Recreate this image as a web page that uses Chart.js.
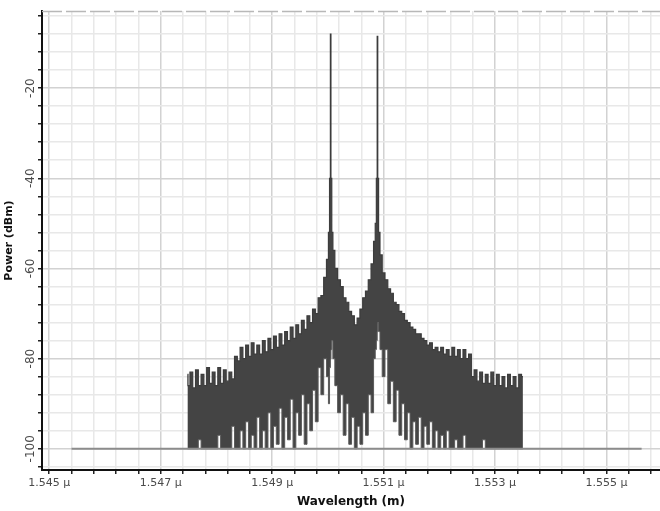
<!DOCTYPE html>
<html>
<head>
<meta charset="utf-8">
<script src="https://cdn.jsdelivr.net/npm/chart.js@4.4.1/dist/chart.umd.min.js"></script>
<style>
html,body{margin:0;padding:0;background:#fff;}
#wrap{width:660px;height:511px;}
</style>
</head>
<body>
<div id="wrap"><canvas id="c" width="660" height="511"></canvas></div>
<script>
// ---- data (wavelength in nm, power in dBm) ----
const wavelengthNm = [
1547.48,1547.50,1547.55,1547.60,1547.65,1547.70,1547.75,1547.80,1547.85,1547.90,1547.95,
1548.00,1548.05,1548.10,1548.15,1548.20,1548.25,1548.30,1548.35,1548.40,1548.45,
1548.50,1548.55,1548.60,1548.65,1548.70,1548.75,1548.80,1548.85,1548.90,1548.95,
1549.00,1549.05,1549.10,1549.15,1549.20,1549.25,1549.30,1549.35,1549.40,1549.45,
1549.50,1549.55,1549.60,1549.65,1549.70,1549.75,1549.80,1549.85,1549.90,1549.95,
1550.00,1550.02,1550.04,1550.05,1550.06,1550.08,1550.10,1550.15,1550.20,1550.25,
1550.30,1550.35,1550.40,1550.45,1550.50,1550.55,1550.60,1550.65,1550.70,1550.75,
1550.80,1550.84,1550.86,1550.88,1550.89,1550.90,1550.92,1550.95,
1551.00,1551.05,1551.10,1551.15,1551.20,1551.25,1551.30,1551.35,1551.40,1551.45,
1551.50,1551.55,1551.60,1551.65,1551.70,1551.75,1551.80,1551.85,1551.90,1551.95,
1552.00,1552.05,1552.10,1552.15,1552.20,1552.25,1552.30,1552.35,1552.40,1552.45,
1552.50,1552.55,1552.60,1552.65,1552.70,1552.75,1552.80,1552.85,1552.90,1552.95,
1553.00,1553.05,1553.10,1553.15,1553.20,1553.25,1553.30,1553.35,1553.40,1553.45,1553.50
];
const upperDbm = [
-83.5,-86,-83,-86.5,-82.5,-86,-83.5,-86,-82,-85.5,-83,
-86,-82,-85.5,-82.5,-85,-83,-84.5,-79.5,-80.5,-77.5,
-80,-77,-79.5,-76.5,-79,-77,-79,-76,-78.5,-75.5,
-78,-75,-77.5,-74.5,-77,-74,-76,-73,-75.5,-72.5,
-74.5,-71.5,-73.5,-70.5,-72,-69,-70,-66.5,-66,-62,
-58,-52,-40,-8,-40,-52,-56,-60,-62.5,-64,
-66.5,-67.5,-69.5,-70.5,-72.5,-71,-69,-66.5,-65,-62.5,
-59,-54,-50,-40,-8.5,-40,-52,-57,
-61,-62.5,-64.5,-65.5,-67.5,-68,-69.5,-70,-71.5,-72,
-73,-73.5,-74.5,-74.5,-75.5,-76,-77,-76.5,-78,-77.5,
-78.5,-77.5,-79,-78,-79.5,-77.5,-79.5,-78,-80,-78,
-80,-79,-84,-82.5,-85,-83,-85.5,-83.5,-85.5,-83,
-86,-83.5,-86,-84,-86.5,-83.5,-86,-84,-86.5,-83.5,-84
];
const lowerDbm = [
-100,-100,-100,-100,-100,-98,-100,-100,-100,-100,-100,
-100,-97,-100,-100,-100,-100,-95,-100,-100,-96,
-100,-94,-100,-97,-100,-93,-100,-96,-100,-92,
-100,-95,-99,-91,-100,-93,-98,-89,-100,-92,
-97,-88,-99,-90,-96,-87,-94,-82,-88,-80,
-84,-90,-82,-80,-78,-76,-80,-86,-92,-88,
-97,-90,-99,-93,-100,-95,-99,-92,-97,-88,
-92,-80,-78,-76,-74,-72,-74,-78,
-84,-78,-90,-85,-94,-87,-97,-90,-98,-92,
-100,-94,-99,-93,-100,-95,-99,-94,-100,-96,
-100,-97,-100,-96,-100,-100,-98,-100,-100,-97,
-100,-100,-100,-100,-100,-100,-98,-100,-100,-100,
-100,-100,-100,-100,-100,-100,-100,-100,-100,-100,-100
];
const baselineNm = [1545.4, 1555.63];
const baselineDbm = [-100, -100];
const xMajorTicksNm = [1545, 1547, 1549, 1551, 1553, 1555];
const yMajorTicks = [-100, -80, -60, -40, -20];

const toXY = (xs, ys) => xs.map((x, i) => ({x: x, y: ys[i]}));
const isMajorX = v => xMajorTicksNm.some(m => Math.abs(m - v) < 1e-6);
const isMajorY = v => yMajorTicks.some(m => Math.abs(m - v) < 1e-6);

const topDash = {
  id: 'topDash',
  afterDraw(chart) {
    const {ctx, chartArea: a} = chart;
    ctx.save();
    ctx.strokeStyle = '#b8b8b8';
    ctx.lineWidth = 1.5;
    ctx.setLineDash([20, 4]);
    ctx.beginPath();
    ctx.moveTo(a.left, a.top + 0.5);
    ctx.lineTo(a.right, a.top + 0.5);
    ctx.stroke();
    ctx.restore();
  }
};

new Chart(document.getElementById('c'), {
  type: 'line',
  data: {
    datasets: [
      {
        data: toXY(baselineNm, baselineDbm),
        borderColor: '#8c8c8c', borderWidth: 2, pointRadius: 0, fill: false
      },
      {
        data: toXY(wavelengthNm, lowerDbm),
        borderColor: '#5a5a5a', borderWidth: 1, pointRadius: 0, fill: false,
        stepped: 'middle'
      },
      {
        data: toXY(wavelengthNm, upperDbm),
        borderColor: '#3c3c3c', borderWidth: 1.2, pointRadius: 0,
        fill: '-1', backgroundColor: '#444444',
        stepped: 'middle'
      }
    ]
  },
  options: {
    responsive: false,
    animation: false,
    events: [],
    layout: {padding: {top: 11, right: 0, left: 0, bottom: 0}},
    plugins: {legend: {display: false}, tooltip: {enabled: false}},
    elements: {line: {tension: 0}},
    scales: {
      x: {
        type: 'linear',
        min: 1544.87, max: 1555.96,
        afterBuildTicks: s => {
          const t = [];
          for (let v = 1545; v <= 1555.81; v += 0.4) t.push({value: Math.round(v * 10) / 10});
          s.ticks = t;
        },
        afterFit: s => { s.height = 41; },
        grid: {
          color: c => isMajorX(c.tick.value) ? '#d2d2d2' : '#e8e8e8',
          lineWidth: 1.5,
          tickLength: 4,
          tickColor: '#222',
          drawOnChartArea: true
        },
        border: {color: '#111', width: 2},
        ticks: {
          autoSkip: false, maxRotation: 0, minRotation: 0, padding: 3,
          color: '#4a4a4a',
          font: {family: 'DejaVu Sans', size: 11},
          callback: v => isMajorX(v) ? (v / 1000).toFixed(3) + ' \u03bc' : ''
        },
        title: {
          display: true, text: 'Wavelength (m)', color: '#111',
          font: {family: 'DejaVu Sans', size: 12, weight: 'bold'},
          padding: {top: 0, bottom: 2}
        }
      },
      y: {
        min: -104.7, max: -2.9,
        afterBuildTicks: s => {
          const t = [];
          for (let v = -104; v <= -4; v += 4) t.push({value: v});
          s.ticks = t;
        },
        afterFit: s => { s.width = 42; },
        grid: {
          color: c => isMajorY(c.tick.value) ? '#d2d2d2' : '#e8e8e8',
          lineWidth: 1.5,
          tickLength: 4,
          tickColor: '#222'
        },
        border: {color: '#111', width: 2},
        ticks: {
          autoSkip: false, minRotation: 90, maxRotation: 90, padding: -6,
          crossAlign: 'center',
          color: '#4a4a4a',
          font: {family: 'DejaVu Sans', size: 12},
          callback: v => isMajorY(v) ? String(v) : ''
        },
        title: {
          display: true, text: 'Power (dBm)', color: '#111',
          font: {family: 'DejaVu Sans', size: 11, weight: 'bold'},
          padding: {top: 3, bottom: 0}
        }
      }
    }
  },
  plugins: [topDash]
});
</script>
</body>
</html>
